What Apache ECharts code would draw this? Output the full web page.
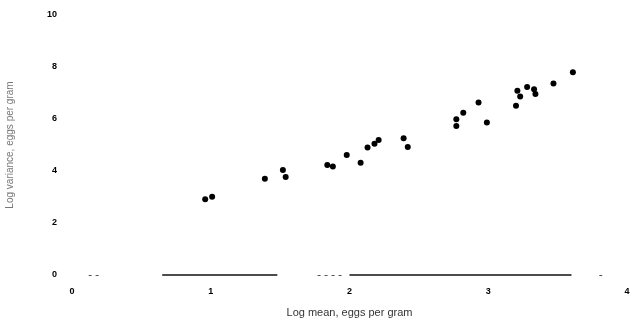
<!DOCTYPE html>
<html>
<head>
<meta charset="utf-8">
<script src="https://cdn.jsdelivr.net/npm/echarts@6/dist/echarts.min.js"></script>
<style>
  html, body { margin: 0; padding: 0; background: #fff; }
  #chart { width: 632px; height: 329px; }
</style>
</head>
<body>
<div id="chart"></div>
<script>
// 数据：log mean / log variance
const logMean = [0.96, 1.01, 1.39, 1.52, 1.54, 1.84, 1.88, 1.98, 2.08, 2.13, 2.18, 2.21, 2.39, 2.42,
  2.77, 2.77, 2.82, 2.93, 2.99, 3.20, 3.21, 3.23, 3.28, 3.33, 3.34, 3.47, 3.61];
const logVar = [2.91, 3.01, 3.70, 4.04, 3.77, 4.23, 4.17, 4.62, 4.32, 4.90, 5.05, 5.19, 5.26, 4.92,
  5.73, 5.99, 6.24, 6.63, 5.87, 6.51, 7.09, 6.87, 7.23, 7.14, 6.96, 7.37, 7.80];
const xTicks = [0, 1, 2, 3, 4];
const yTicks = [0, 2, 4, 6, 8, 10];
// 横轴基线的几段（扫描件里是断开的）
const baseSolid = [[0.65, 1.48], [2.0, 3.6]];
const baseDashed = [[0.12, 0.2], [1.77, 1.97], [3.8, 3.85]];

const chart = echarts.init(document.getElementById('chart'));

const points = logMean.map((x, i) => [x, logVar[i]]);

const segLines = baseSolid.map(s => [
  { coord: [s[0], 0], lineStyle: { type: 'solid', color: '#111', width: 1.5 } },
  { coord: [s[1], 0] }
]).concat(baseDashed.map(s => [
  { coord: [s[0], 0], lineStyle: { type: [3, 4], color: '#555', width: 1 } },
  { coord: [s[1], 0] }
]));

const option = {
  animation: false,
  grid: {
    left: 72,
    right: 5,
    top: 15,
    bottom: 54,
    outerBoundsMode: 'none'
  },
  xAxis: {
    type: 'value',
    min: xTicks[0],
    max: xTicks[xTicks.length - 1],
    interval: 1,
    name: 'Log mean, eggs per gram',
    nameLocation: 'middle',
    nameGap: 32,
    nameTextStyle: {
      color: '#333',
      fontSize: 11,
      fontFamily: 'Liberation Sans'
    },
    axisLine: { show: false },
    axisTick: { show: false },
    splitLine: { show: false },
    axisLabel: {
      color: '#000',
      fontSize: 9,
      fontWeight: 'bold',
      fontFamily: 'Liberation Sans',
      margin: 12
    }
  },
  yAxis: {
    type: 'value',
    min: yTicks[0],
    max: yTicks[yTicks.length - 1],
    interval: 2,
    name: 'Log variance, eggs per gram',
    nameLocation: 'middle',
    nameGap: 57,
    nameTextStyle: {
      color: '#777',
      fontSize: 10,
      fontFamily: 'Liberation Sans'
    },
    axisLine: { show: false },
    axisTick: { show: false },
    splitLine: { show: false },
    axisLabel: {
      color: '#000',
      fontSize: 9,
      fontWeight: 'bold',
      fontFamily: 'Liberation Sans',
      margin: 15
    }
  },
  series: [
    {
      type: 'scatter',
      data: points,
      symbol: 'circle',
      symbolSize: 6,
      itemStyle: { color: '#000', opacity: 1 },
      markLine: {
        silent: true,
        symbol: 'none',
        label: { show: false },
        data: segLines
      }
    }
  ]
};

chart.setOption(option);
</script>
</body>
</html>
